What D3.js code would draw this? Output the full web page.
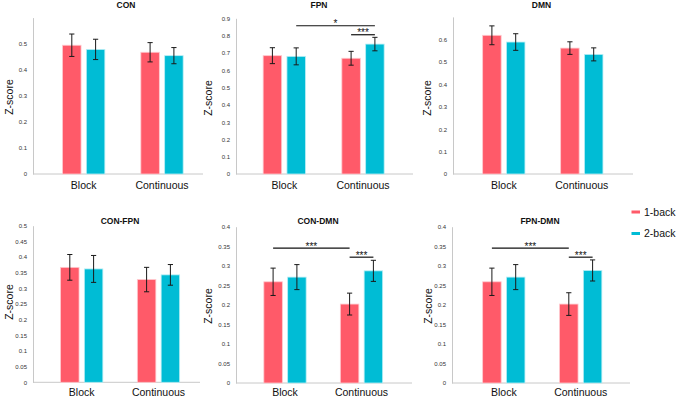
<!DOCTYPE html>
<html>
<head>
<meta charset="utf-8">
<script src="https://d3js.org/d3.v7.min.js"></script>
<style>
    body { margin: 0; background: #fff; }
    svg { display: block; font-family: "Liberation Sans", Arial, Helvetica, sans-serif; }
</style>
</head>
<body>
<div id="chart"></div>
<script>
// values
var categories = ["Block", "Continuous"];
var conditions = ["1-back", "2-back"];
var networks = ["CON", "FPN", "DMN", "CON-FPN", "CON-DMN", "FPN-DMN"];

var oneBack = [[0.494, 0.467], [0.684, 0.669], [0.618, 0.561], [0.367, 0.328], [0.259, 0.202], [0.259, 0.202]];
var twoBack = [[0.478, 0.454], [0.680, 0.751], [0.588, 0.533], [0.362, 0.343], [0.271, 0.287], [0.271, 0.288]];
var oneBackErr = [[0.043, 0.037], [0.046, 0.040], [0.042, 0.028], [0.041, 0.039], [0.035, 0.028], [0.035, 0.029]];
var twoBackErr = [[0.039, 0.031], [0.049, 0.039], [0.037, 0.029], [0.043, 0.033], [0.032, 0.027], [0.032, 0.027]];

var yMax = [0.6, 0.9, 0.7, 0.5, 0.4, 0.4];
var yTickMax = [0.5, 0.9, 0.6, 0.5, 0.4, 0.4];
var yTickStep = [0.1, 0.1, 0.1, 0.05, 0.05, 0.05];

// significance brackets: [panel, from (category, condition), to (category, condition), level, label]
var sigBrackets = [
    [1, [0, 1], [1, 1], 0.857, "*"],
    [1, [1, 0], [1, 1], 0.805, "***"],
    [4, [0, 0], [1, 0], 0.345, "***"],
    [4, [1, 0], [1, 1], 0.322, "***"],
    [5, [0, 0], [1, 0], 0.345, "***"],
    [5, [1, 0], [1, 1], 0.322, "***"]
];

var colors = ["#ff5a69", "#00bcd5"];
var edge = ["#ffc9ce", "#b8eef5"];

// panel frames in pixels
var layout = [
    {x0: 33, x1: 203, g: [83.7, 162], base: 174, top: 17.6, tx: 126, zx: 9.5, zy: 97, ty: 8, cy: 189},
    {x0: 236, x1: 413, g: [284.3, 363], base: 174, top: 18.3, tx: 319, zx: 208.5, zy: 98, ty: 8, cy: 189},
    {x0: 453, x1: 633, g: [503.8, 581.8], base: 174, top: 16.9, tx: 541.5, zx: 427, zy: 98, ty: 8, cy: 189},
    {x0: 33, x1: 200, g: [81.7, 158.5], base: 382.3, top: 225.7, tx: 120, zx: 9.5, zy: 302, ty: 223.5, cy: 396},
    {x0: 236, x1: 412, g: [285, 361.5], base: 383, top: 226.7, tx: 318, zx: 208.5, zy: 306, ty: 223.5, cy: 396},
    {x0: 452, x1: 630, g: [503.8, 580.7], base: 383, top: 226.7, tx: 540, zx: 428, zy: 306, ty: 223.5, cy: 396}
];

var width = 676, height = 398;
var barW = 18.5, barOff = 11.9, capW = 2.6;

var svg = d3.select("#chart").append("svg")
    .attr("width", width)
    .attr("height", height);

networks.forEach(function (name, i) {
    var L = layout[i];
    var g = svg.append("g").attr("class", "panel");

    var x = d3.scalePoint().domain(categories).range(L.g);
    var sub = d3.scalePoint().domain(conditions).range([-barOff, barOff]);
    var y = d3.scaleLinear().domain([0, yMax[i]]).range([L.base, L.top]);

    var ticks = d3.range(0, yTickMax[i] + 1e-9, yTickStep[i]);

    var yAxis = g.append("g")
        .attr("transform", "translate(" + L.x0 + ",0)")
        .call(d3.axisLeft(y).tickValues(ticks).tickFormat(d3.format(".2~f")).tickSize(0).tickPadding(6));
    yAxis.select(".domain").attr("stroke", "#c8c8c8");
    yAxis.selectAll("text")
        .attr("fill", "#333")
        .style("font-size", "6px");

    g.append("line")
        .attr("x1", L.x0).attr("x2", L.x1)
        .attr("y1", L.base).attr("y2", L.base)
        .attr("stroke", "#c8c8c8");

    var rows = [];
    categories.forEach(function (c, ci) {
        rows.push({cat: c, cond: conditions[0], v: oneBack[i][ci], e: oneBackErr[i][ci], k: 0});
        rows.push({cat: c, cond: conditions[1], v: twoBack[i][ci], e: twoBackErr[i][ci], k: 1});
    });

    g.selectAll("rect.bar")
        .data(rows)
        .enter()
        .append("rect")
        .attr("class", "bar")
        .attr("x", function (d) { return x(d.cat) + sub(d.cond) - barW / 2; })
        .attr("y", function (d) { return y(d.v); })
        .attr("width", barW)
        .attr("height", function (d) { return y(0) - y(d.v); })
        .attr("fill", function (d) { return colors[d.k]; })
        .attr("stroke", function (d) { return edge[d.k]; })
        .attr("stroke-width", 0.8);

    var eb = g.selectAll("g.err")
        .data(rows)
        .enter()
        .append("g")
        .attr("class", "err")
        .attr("stroke", "#1a1a1a")
        .attr("stroke-width", 1);
    eb.append("line")
        .attr("x1", function (d) { return x(d.cat) + sub(d.cond); })
        .attr("x2", function (d) { return x(d.cat) + sub(d.cond); })
        .attr("y1", function (d) { return y(d.v + d.e); })
        .attr("y2", function (d) { return y(d.v - d.e); });
    eb.each(function (d) {
        var cx = x(d.cat) + sub(d.cond);
        [d.v + d.e, d.v - d.e].forEach(function (v) {
            d3.select(this).append("line")
                .attr("x1", cx - capW).attr("x2", cx + capW)
                .attr("y1", y(v)).attr("y2", y(v));
        }, this);
    });

    sigBrackets.filter(function (s) { return s[0] === i; }).forEach(function (s) {
        var xa = x(categories[s[1][0]]) + sub(conditions[s[1][1]]);
        var xb = x(categories[s[2][0]]) + sub(conditions[s[2][1]]);
        g.append("line")
            .attr("x1", xa).attr("x2", xb)
            .attr("y1", y(s[3])).attr("y2", y(s[3]))
            .attr("stroke", "#111")
            .attr("stroke-width", 1.2);
        g.append("text")
            .attr("x", (xa + xb) / 2)
            .attr("y", y(s[3]) + 1.5)
            .attr("text-anchor", "middle")
            .style("font-size", "10px")
            .attr("fill", "#111")
            .text(s[4]);
    });

    g.selectAll("text.cat")
        .data(categories)
        .enter()
        .append("text")
        .attr("class", "cat")
        .attr("x", function (d) { return x(d); })
        .attr("y", L.cy)
        .attr("text-anchor", "middle")
        .style("font-size", "10.5px")
        .attr("fill", "#111")
        .text(function (d) { return d; });

    g.append("text")
        .attr("x", L.tx)
        .attr("y", L.ty)
        .attr("text-anchor", "middle")
        .style("font-size", "8.5px")
        .style("font-weight", "bold")
        .attr("fill", "#111")
        .text(name);

    g.append("text")
        .attr("transform", "translate(" + L.zx + "," + L.zy + ") rotate(-90)")
        .attr("text-anchor", "middle")
        .attr("dy", "0.35em")
        .style("font-size", "10.5px")
        .attr("fill", "#111")
        .text("Z-score");
});

var legend = svg.append("g").attr("class", "legend");
conditions.forEach(function (c, k) {
    var ly = 212 + k * 21.5;
    legend.append("rect")
        .attr("x", 631.5).attr("y", ly - 1.5)
        .attr("width", 8.5).attr("height", 3)
        .attr("fill", colors[k]);
    legend.append("text")
        .attr("x", 644)
        .attr("y", ly)
        .attr("dy", "0.35em")
        .style("font-size", "10.5px")
        .attr("fill", "#111")
        .text(c);
});
</script>
</body>
</html>
